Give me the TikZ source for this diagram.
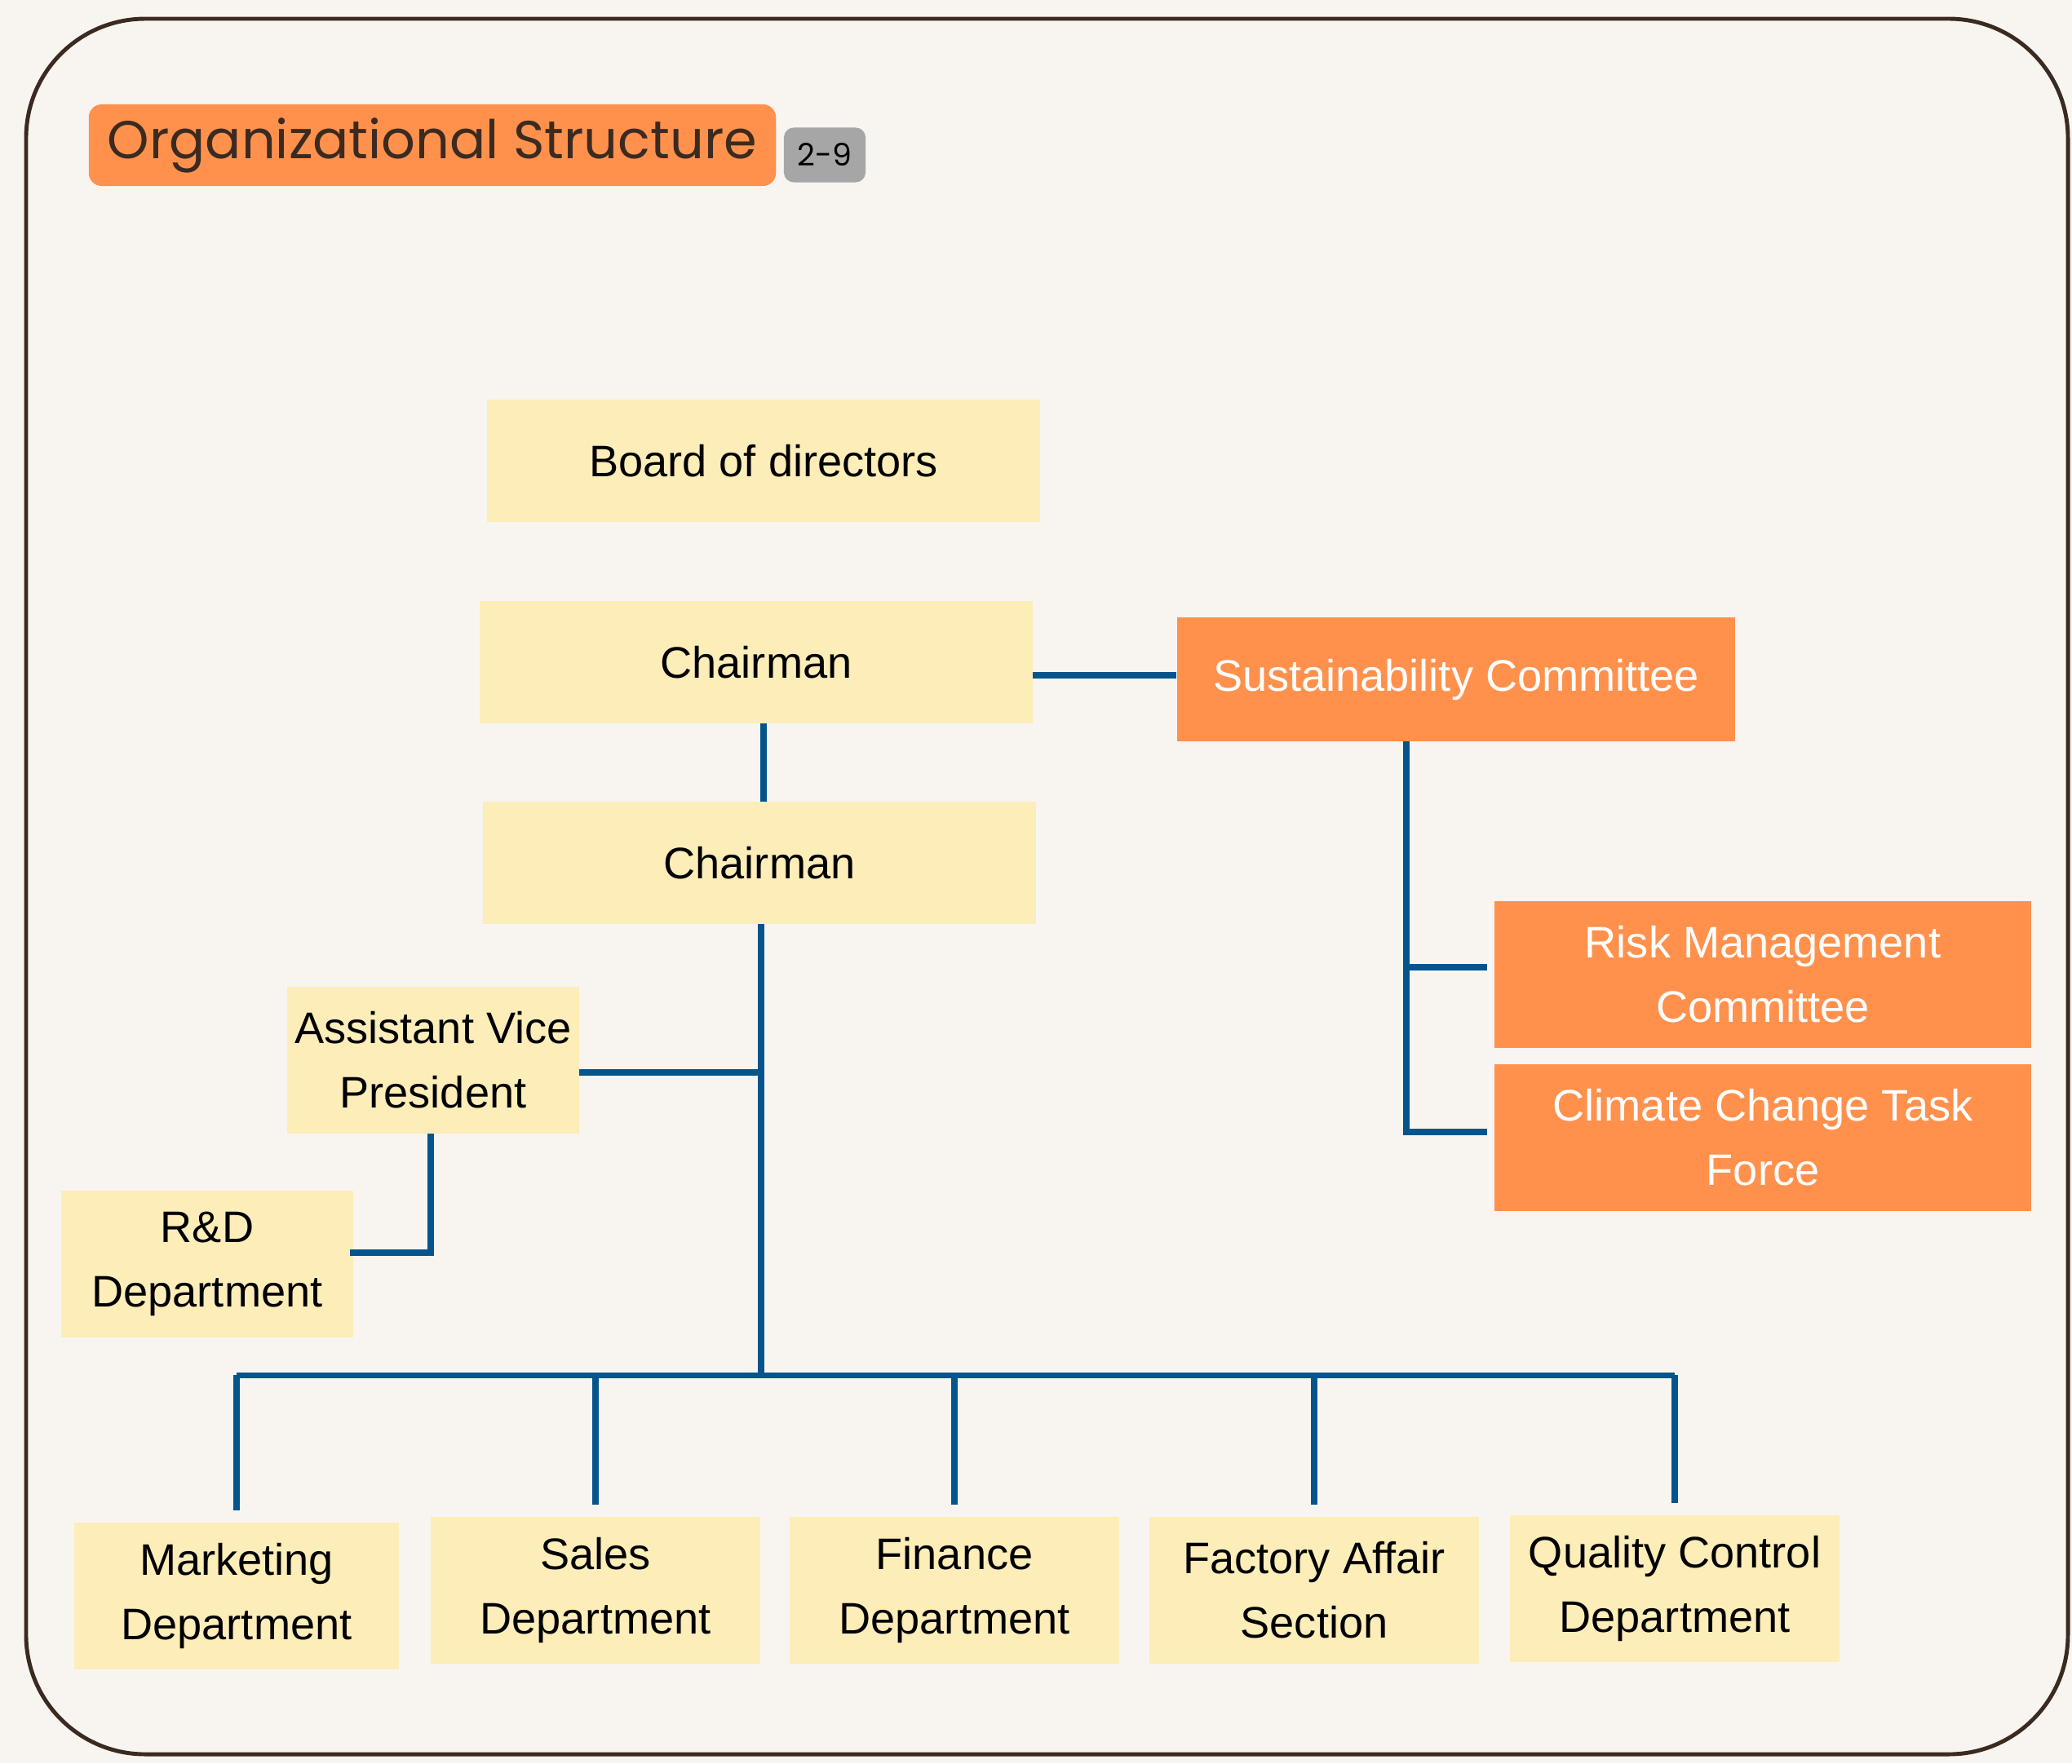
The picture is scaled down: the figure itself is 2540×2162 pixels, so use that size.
\documentclass[tikz,border=0pt]{standalone}
\usepackage{fontspec}
\setmainfont{Liberation Sans}
\newfontfamily\titlefont{Poppins}
\usetikzlibrary{calc,positioning}
\definecolor{paper}{HTML}{F8F5F1}
\definecolor{framebrown}{HTML}{3B2A20}
\definecolor{orgorange}{HTML}{FF914D}
\definecolor{orgyellow}{HTML}{FCEDB9}
\definecolor{orgblue}{HTML}{06548C}
\definecolor{badgegray}{HTML}{A6A6A6}
\tikzset{
  unit/.style={fill=orgyellow, align=center, inner sep=0pt, minimum width=6.77cm, minimum height=1.49cm, font=\fontsize{15.4}{22.5}\selectfont},
  smallunit/.style={unit, minimum width=3.57cm, minimum height=1.79cm},
  dept/.style={unit, minimum width=4.03cm, minimum height=1.79cm},
  committee/.style={unit, fill=orgorange, text=white},
  link/.style={draw=orgblue, line width=2.1pt},
}

\begin{document}
\begin{tikzpicture}[x=0.01cm,y=-0.01cm]
\fill [paper] (0,0) rectangle (2540,2162);
\draw [framebrown, line width=1.4pt, rounded corners=1.46cm] (32,23) rectangle (2535,2151);
% heading
\node [fill=orgorange, rounded corners=0.16cm, minimum width=8.42cm, minimum height=1cm, inner sep=0pt, text=framebrown, font=\titlefont\fontsize{18.6}{20}\selectfont] (title) at (530,178) {Organizational Structure};
\node [fill=badgegray, rounded corners=0.12cm, minimum width=1cm, minimum height=0.67cm, inner sep=0pt, font=\titlefont\fontsize{10.8}{12}\selectfont] (badge) at (1011,190) {2-9};
% top of the chart
\node [unit] (board) at (936,565) {Board of directors};
\node [unit] (chair1) at (927,812) {Chairman};
\node [unit] (chair2) at (931,1058) {Chairman};
\node [committee, minimum width=6.84cm, minimum height=1.51cm] (sc) at (1785,833) {Sustainability Committee};
\node [committee, minimum width=6.58cm, minimum height=1.79cm] (risk) at (2161,1195) {Risk Management\\Committee};
\node [committee, minimum width=6.58cm, minimum height=1.79cm] (climate) at (2161,1395) {Climate Change Task\\Force};
\node [smallunit] (avp) at (531,1300) {Assistant Vice\\President};
\node [smallunit] (rnd) at (254,1550) {R\&D\\Department};
% departments
\node [dept, minimum width=3.98cm] (mkt) at (290,1957) {Marketing\\Department};
\node [dept] (sales) at (730,1950) {Sales\\Department};
\node [dept] (fin) at (1170,1950) {Finance\\Department};
\node [dept] (fac) at (1611,1950) {Factory Affair\\Section};
\node [dept] (qc) at (2053,1948) {Quality Control\\Department};

\draw [link] ($(chair1.south)+(9,0)$) -- ($(chair1.south |- chair2.north)+(9,0)$);
\draw [link] ($(sc.west)+(0,-5)$) -- ($(sc.west -| chair1.east)+(0,-5)$);
\coordinate (sctop) at ($(sc.south)+(-61,0)$);
\draw [link, shorten >=0.08cm] (sctop) |- ($(climate.west)+(0,-7)$);
\draw [link, shorten >=0.08cm] ($(risk.west -| sctop)+(0,-9)$) -- ($(risk.west)+(0,-9)$);
\coordinate (busmid) at ($(chair2.south)+(2,553)$);
\draw [link] (busmid |- chair2.south) -- (busmid);
\draw [link] ($(avp.east)+(0,15)$) -- ($(avp.east -| busmid)+(0,15)$);
\draw [link] ($(avp.south)+(-3,0)$) |- ($(rnd.east)+(-4,-14)$);
\draw [link] (mkt.north |- busmid) -- (qc.north |- busmid);
\foreach \d in {mkt,sales,fin,fac,qc}
  \draw [link, shorten >=0.15cm] (\d.north |- busmid) -- (\d.north);
\end{tikzpicture}
\end{document}
